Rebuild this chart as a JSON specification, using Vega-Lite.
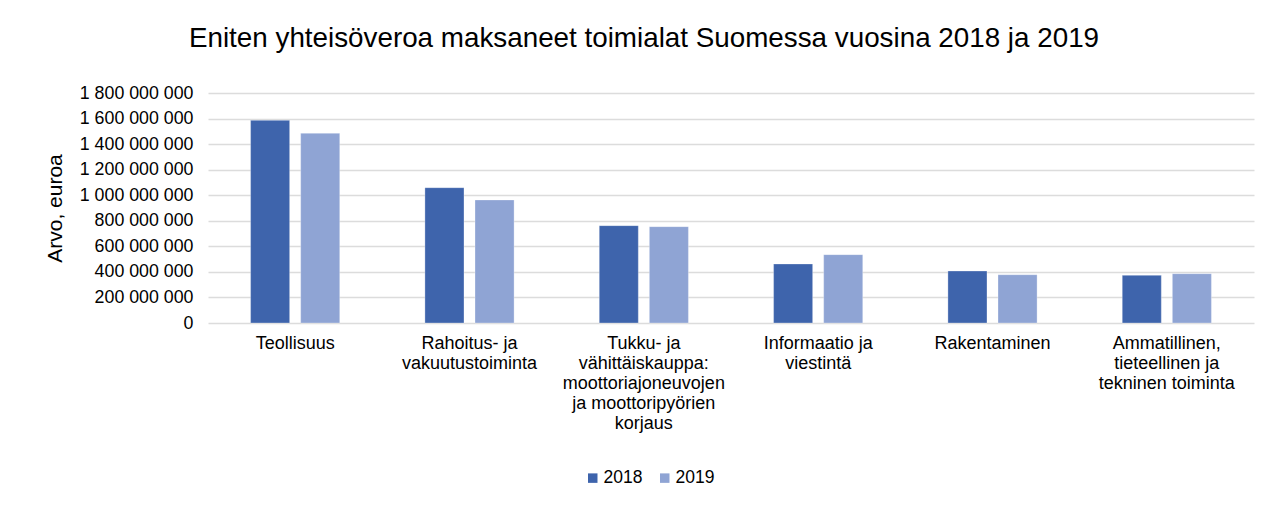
{
  "$schema": "https://vega.github.io/schema/vega-lite/v6.json",
  "autosize": {"type": "none"},
  "padding": {"left": 208, "top": 93, "right": 28, "bottom": 184},
  "width": 1046,
  "height": 230,
  "background": "white",
  "title": {
    "text": "Eniten yhteisöveroa maksaneet toimialat Suomessa vuosina 2018 ja 2019",
    "font": "Liberation Sans",
    "fontSize": 27.8,
    "fontWeight": "normal",
    "color": "#000000",
    "anchor": "middle",
    "dx": -87,
    "baseline": "alphabetic",
    "offset": 9
  },
  "data": {
    "values": [
      {"toimiala": "Teollisuus", "vuosi": "2018", "arvo": 1586000000},
      {"toimiala": "Teollisuus", "vuosi": "2019", "arvo": 1485000000},
      {"toimiala": "Rahoitus- ja vakuutustoiminta", "vuosi": "2018", "arvo": 1059000000},
      {"toimiala": "Rahoitus- ja vakuutustoiminta", "vuosi": "2019", "arvo": 963000000},
      {"toimiala": "Tukku- ja vähittäiskauppa: moottoriajoneuvojen ja moottoripyörien korjaus", "vuosi": "2018", "arvo": 762000000},
      {"toimiala": "Tukku- ja vähittäiskauppa: moottoriajoneuvojen ja moottoripyörien korjaus", "vuosi": "2019", "arvo": 754000000},
      {"toimiala": "Informaatio ja viestintä", "vuosi": "2018", "arvo": 462000000},
      {"toimiala": "Informaatio ja viestintä", "vuosi": "2019", "arvo": 535000000},
      {"toimiala": "Rakentaminen", "vuosi": "2018", "arvo": 407000000},
      {"toimiala": "Rakentaminen", "vuosi": "2019", "arvo": 378000000},
      {"toimiala": "Ammatillinen, tieteellinen ja tekninen toiminta", "vuosi": "2018", "arvo": 373000000},
      {"toimiala": "Ammatillinen, tieteellinen ja tekninen toiminta", "vuosi": "2019", "arvo": 386000000}
    ]
  },
  "mark": {"type": "bar", "stroke": "#ffffff", "strokeWidth": 0.6, "strokeOpacity": 0.5},
  "encoding": {
    "x": {
      "field": "toimiala",
      "type": "nominal",
      "sort": null,
      "scale": {"paddingInner": 0, "paddingOuter": 0},
      "axis": {
        "title": null,
        "labelAngle": 0,
        "domain": false,
        "ticks": false,
        "labelPadding": 11,
        "labelFont": "Liberation Sans",
        "labelFontSize": 18,
        "labelColor": "#000000",
        "labelLineHeight": 20.2,
        "labelLimit": 300,
        "labelExpr": "datum.label == 'Rahoitus- ja vakuutustoiminta' ? ['Rahoitus- ja', 'vakuutustoiminta'] : datum.label == 'Tukku- ja vähittäiskauppa: moottoriajoneuvojen ja moottoripyörien korjaus' ? ['Tukku- ja', 'vähittäiskauppa:', 'moottoriajoneuvojen', 'ja moottoripyörien', 'korjaus'] : datum.label == 'Informaatio ja viestintä' ? ['Informaatio ja', 'viestintä'] : datum.label == 'Ammatillinen, tieteellinen ja tekninen toiminta' ? ['Ammatillinen,', 'tieteellinen ja', 'tekninen toiminta'] : datum.label"
      }
    },
    "xOffset": {
      "field": "vuosi",
      "type": "nominal",
      "scale": {"paddingInner": 0.22, "paddingOuter": 0.85}
    },
    "y": {
      "field": "arvo",
      "type": "quantitative",
      "scale": {"domain": [0, 1800000000], "nice": false},
      "axis": {
        "title": "Arvo, euroa",
        "titleFont": "Liberation Sans",
        "titleFontSize": 21,
        "titleFontWeight": "normal",
        "titleColor": "#000000",
        "titlePadding": 14,
        "values": [0, 200000000, 400000000, 600000000, 800000000, 1000000000, 1200000000, 1400000000, 1600000000, 1800000000],
        "format": ",d",
        "domain": false,
        "ticks": false,
        "labelPadding": 15,
        "labelFont": "Liberation Sans",
        "labelFontSize": 17.8,
        "labelColor": "#000000",
        "gridColor": "#dcdcdc",
        "gridWidth": 1.5
      }
    },
    "color": {
      "field": "vuosi",
      "type": "nominal",
      "scale": {"domain": ["2018", "2019"], "range": ["#3E64AC", "#8FA4D4"]},
      "legend": {
        "title": null,
        "orient": "none",
        "direction": "horizontal",
        "legendX": 376,
        "legendY": 376,
        "symbolType": "square",
        "symbolSize": 90,
        "symbolStrokeWidth": 0,
        "labelFont": "Liberation Sans",
        "labelFontSize": 17.5,
        "labelColor": "#000000",
        "labelOffset": 2,
        "columnPadding": 13
      }
    }
  },
  "config": {
    "view": {"stroke": null},
    "locale": {
      "number": {"decimal": ",", "thousands": " ", "grouping": [3], "currency": ["", " €"]}
    }
  }
}
